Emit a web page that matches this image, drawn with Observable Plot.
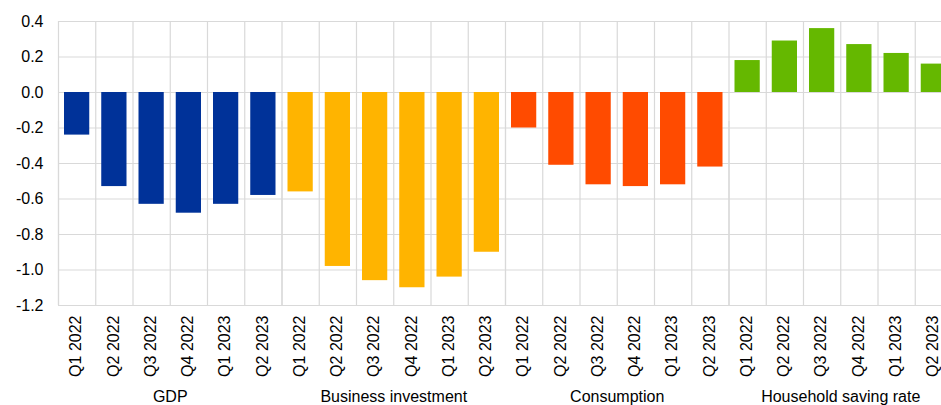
<!DOCTYPE html>
<html><head><meta charset="utf-8">
<script src="https://cdn.jsdelivr.net/npm/d3@7"></script>
<script src="https://cdn.jsdelivr.net/npm/@observablehq/plot@0.6"></script>
<style>body{margin:0;background:#fff;overflow:hidden}</style>
</head><body><div id="chart"></div>
<script>
const groups = ["GDP", "Business investment", "Consumption", "Household saving rate"];
const quarters = ["Q1 2022", "Q2 2022", "Q3 2022", "Q4 2022", "Q1 2023", "Q2 2023"];
const gdp = [-0.24, -0.53, -0.63, -0.68, -0.63, -0.58];
const businessInvestment = [-0.56, -0.98, -1.06, -1.10, -1.04, -0.90];
const consumption = [-0.20, -0.41, -0.52, -0.53, -0.52, -0.42];
const savingRate = [0.18, 0.29, 0.36, 0.27, 0.22, 0.16];
const colors = ["#003299", "#FFB400", "#FF4B00", "#65B800"];
const yTicks = [-1.2, -1.0, -0.8, -0.6, -0.4, -0.2, 0.0, 0.2, 0.4];

const series = [gdp, businessInvestment, consumption, savingRate];
const n = quarters.length;
const data = [];
series.forEach((vals, g) => vals.forEach((v, q) =>
  data.push({group: groups[g], quarter: quarters[q], value: v, i: g * n + q})));
const cells = d3.range(groups.length * n + 1);
const bounds = d3.range(groups.length + 1).map(g => g * n);
const grid = "#d9d9d9";

const chart = Plot.plot({
  width: 941,
  height: 405,
  marginTop: 21,
  marginBottom: 100,
  marginLeft: 58,
  marginRight: 0,
  style: {fontFamily: "'Liberation Sans', Arial, sans-serif", fontSize: "16px", color: "#000", background: "#fff"},
  x: {type: "linear", domain: [0, groups.length * n], range: [58, 952], axis: null},
  y: {domain: [-1.2, 0.4], label: null},
  color: {domain: groups, range: colors},
  marks: [
    Plot.ruleY(yTicks, {stroke: grid, strokeWidth: 1.2}),
    Plot.ruleX(cells, {y1: -1.2, y2: 0.4, stroke: grid, strokeWidth: 1.2}),
    Plot.ruleX(bounds, {y1: -1.2, y2: 0.4, insetBottom: -100, stroke: grid, strokeWidth: 1.2}),
    Plot.rectY(data, {x1: "i", x2: d => d.i + 1, y1: 0, y2: "value", fill: "group", insetLeft: 6, insetRight: 6}),
    Plot.axisY({ticks: yTicks, tickSize: 0, tickPadding: 15, tickFormat: d => d.toFixed(1), label: null, fontSize: 16, fill: "#000"}),
    Plot.text(data, {x: d => d.i + 0.5, y: () => -1.2, text: "quarter", rotate: -90, textAnchor: "end", dy: 10, dx: -1, fontSize: 16, fill: "#000"}),
    Plot.text(groups, {x: (d, i) => i * n + n / 2, y: () => -1.2, text: d => d, dy: 91, fontSize: 16, fill: "#000"})
  ]
});
document.getElementById("chart").appendChild(chart);
</script>
</body></html>
